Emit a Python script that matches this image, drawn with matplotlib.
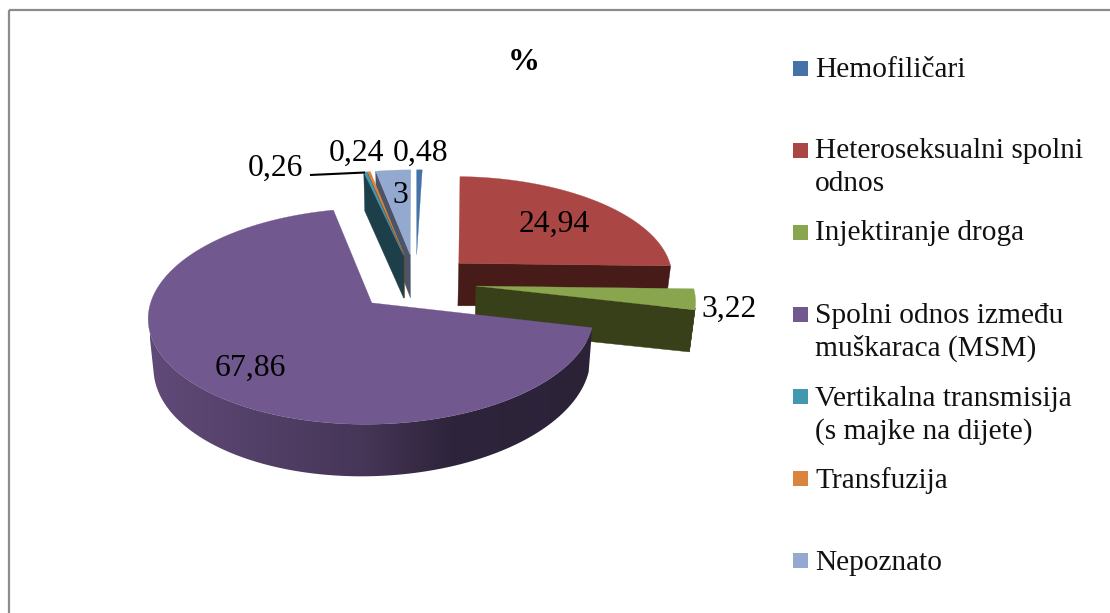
import numpy as np
import matplotlib
matplotlib.use("Agg")
import matplotlib.pyplot as plt
from matplotlib.patches import Rectangle, Polygon
from matplotlib.colors import LinearSegmentedColormap

plt.rcParams['font.family'] = ['Liberation Serif', 'DejaVu Serif']

CATEGORIES = ["Hemofiličari", "Heteroseksualni spolni\nodnos", "Injektiranje droga",
              "Spolni odnos između\nmuškaraca (MSM)", "Vertikalna transmisija\n(s majke na dijete)",
              "Transfuzija", "Nepoznato"]
VALUES = [0.48, 24.94, 3.22, 67.86, 0.26, 0.24, 3.0]
VALUE_LABELS = ["0,48", "24,94", "3,22", "67,86", "0,26", "0,24", "3"]
COLORS = ["#4572a7", "#aa4643", "#89a54e", "#71588f", "#4198af", "#db843d", "#93a9cf"]
SIDE_COLORS = ["#c4d2e2", "#471b18", "#374019", "#2c2238", "#1c3f4a", "#6e4220", "#4b5468"]

# layout (pixel positions of the projected chart)
XC, YC, B, A, K = 415.8, 282.4, 216.0, 101.5, 0.12
EXPLODE = 0.28
H0 = 44.0
LABEL_POS = [(393, 161), (519, 232), (701, 317), (215, 376), (248, 176), (329, 161), (392, 203)]
LEGEND_BASE = [77, 158, 240, 323, 406, 488, 570]
LEGEND_SW = [61, 143, 225, 307, 389, 471, 553]
LINE_GAP = 33

def top(u, v):
    w = 1 + K * v
    return XC + B * u / w, YC - A * v / w

def bottom(u, v):
    x, y = top(u, v)
    w = 1 + K * v
    return XC + (x - XC) * 0.98, y + H0 * (1 - 0.06 * u) / w

def area(pts):
    p = np.array(pts)
    return 0.5 * np.sum(p[:, 0] * np.roll(p[:, 1], -1) - np.roll(p[:, 0], -1) * p[:, 1])

WALL_CMAP = LinearSegmentedColormap.from_list(
    "wall", [(0.0, "#604a78"), (0.47, "#463658"), (0.67, "#2e243b"), (1.0, "#2c2238")])

fig = plt.figure(figsize=(11.10, 6.13), dpi=100, facecolor="white")
ax = fig.add_axes([0, 0, 1, 1])
ax.set_xlim(0, 1110)
ax.set_ylim(613, 0)
ax.axis("off")

# chart frame: only its top and left edges fall inside the crop
ax.add_patch(Rectangle((8.5, 10), 1200, 700, fill=False, edgecolor="#8c8c8c", lw=1.6, clip_on=True))

total = sum(VALUES)
edges = np.concatenate([[0], np.cumsum(VALUES)]) / total * 2 * np.pi
order = [0, 6, 5, 4, 1, 2, 3]
zorder = 2

for i in order:
    t0, t1 = edges[i], edges[i + 1]
    mid = (t0 + t1) / 2
    ou, ov = EXPLODE * np.sin(mid), EXPLODE * np.cos(mid)
    n = max(3, int(np.degrees(t1 - t0)) + 2)
    ts = np.linspace(t0, t1, n)
    us, vs = ou + np.sin(ts), ov + np.cos(ts)

    # cut faces
    for rim_u, rim_v, sign in ((us[0], vs[0], 1), (us[-1], vs[-1], -1)):
        poly = [top(ou, ov), top(rim_u, rim_v), bottom(rim_u, rim_v), bottom(ou, ov)]
        if sign * area(poly) < -300:
            ax.fill(*zip(*poly), color=SIDE_COLORS[i], lw=0.3, zorder=zorder)
            zorder += 1
    # outer wall
    keep = [j for j in range(n - 1)
            if area([top(us[j], vs[j]), top(us[j + 1], vs[j + 1]),
                     bottom(us[j + 1], vs[j + 1]), bottom(us[j], vs[j])]) < 0]
    if keep:
        jj = keep + [keep[-1] + 1]
        outline = [top(us[j], vs[j]) for j in jj] + [bottom(us[j], vs[j]) for j in reversed(jj)]
        if i == 3:
            clip = Polygon(outline, closed=True, transform=ax.transData, facecolor="none", edgecolor="none")
            ax.add_patch(clip)
            img = ax.imshow(np.linspace(0, 1, 256)[None, :], cmap=WALL_CMAP, vmin=0, vmax=1,
                            extent=(150, 600, 480, 300), aspect="auto", zorder=zorder)
            img.set_clip_path(clip)
            ax.set_xlim(0, 1110)
            ax.set_ylim(613, 0)
        else:
            ax.fill(*zip(*outline), color=SIDE_COLORS[i], lw=0.3, zorder=zorder)
    zorder += 1
    # top surface
    pts = [top(ou, ov)] + [top(a, b) for a, b in zip(us, vs)]
    ax.fill(*zip(*pts), color=COLORS[i], lw=0.2, zorder=zorder)
    zorder += 1

ax.text(524, 70, "%", fontsize=23, fontweight="bold", ha="center", va="baseline", zorder=50)

for lab, (x, y) in zip(VALUE_LABELS, LABEL_POS):
    ax.text(x, y, lab, fontsize=22.8, color="black", ha="left", va="baseline", zorder=50)

# leader line of the 0,26 label
ax.plot([310, 365], [175, 172.5], color="black", lw=1.5, zorder=49, solid_capstyle="butt")

for cat, col, b, sw in zip(CATEGORIES, COLORS, LEGEND_BASE, LEGEND_SW):
    ax.add_patch(Rectangle((793, sw), 15, 15, facecolor=col, edgecolor="none", zorder=50))
    for k, line in enumerate(cat.split("\n")):
        ax.text(815, b + k * LINE_GAP, line, fontsize=21.2, color="#111111", ha="left", va="baseline", zorder=50)

fig.savefig("out.png", dpi=100, facecolor="white")
